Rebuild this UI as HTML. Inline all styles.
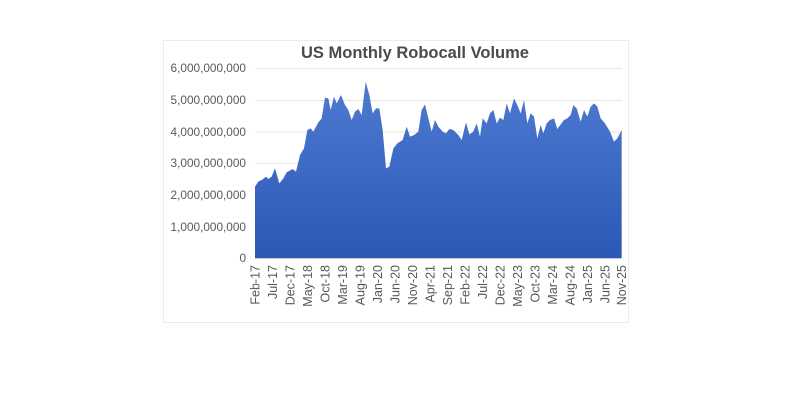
<!DOCTYPE html>
<html><head><meta charset="utf-8"><style>
html,body{margin:0;padding:0;background:#fff;}
svg{display:block;font-family:"Liberation Sans",sans-serif;}
</style></head><body>
<svg width="800" height="400" viewBox="0 0 800 400">
<defs><linearGradient id="g" x1="0" y1="0" x2="0" y2="1">
<stop offset="0" stop-color="#4d7ad2"/><stop offset="1" stop-color="#2c58b6"/></linearGradient></defs>
<rect x="163.5" y="40.5" width="465" height="282" fill="#fff" stroke="#ececec"/>
<text x="415" y="58" text-anchor="middle" font-size="16.5" font-weight="bold" fill="#4a4a4a">US Monthly Robocall Volume</text>
<g stroke="#e6e6e6" stroke-width="1">
<line x1="255" x2="622" y1="68.5" y2="68.5"/><line x1="255" x2="622" y1="100.5" y2="100.5"/>
<line x1="255" x2="622" y1="132" y2="132"/><line x1="255" x2="622" y1="163.5" y2="163.5"/>
<line x1="255" x2="622" y1="195.3" y2="195.3"/><line x1="255" x2="622" y1="227" y2="227"/>
</g>
<g font-size="11.8" fill="#595959" text-anchor="end">
<text x="246" y="72">6,000,000,000</text><text x="246" y="104">5,000,000,000</text>
<text x="246" y="136">4,000,000,000</text><text x="246" y="167">3,000,000,000</text>
<text x="246" y="199">2,000,000,000</text><text x="246" y="231">1,000,000,000</text>
<text x="246" y="262">0</text>
</g>
<g transform="translate(160,35) scale(0.3333333)">
<polygon fill="url(#g)" points="285,670 285,455 295,440 310,432 318,425 325,432 335,425 345,400 358,445 370,430 380,412 398,402 408,410 420,360 432,340 442,285 452,280 460,290 475,262 485,250 495,188 505,190 512,225 522,185 530,205 543,180 555,210 565,225 575,255 585,230 595,222 605,240 617,140 628,180 638,235 648,220 658,220 668,285 678,400 688,395 700,340 712,325 728,315 740,275 750,305 762,300 775,290 785,225 795,208 805,250 815,290 825,255 835,275 848,290 858,295 868,282 880,285 895,300 905,315 918,262 928,298 940,290 950,265 960,305 968,250 980,265 990,235 1000,225 1010,265 1020,248 1030,255 1040,205 1050,235 1062,190 1072,210 1082,235 1092,195 1102,265 1112,235 1122,245 1132,310 1142,270 1150,295 1160,265 1170,255 1182,250 1192,282 1202,268 1212,255 1222,250 1232,240 1240,210 1250,220 1262,260 1272,225 1282,245 1292,215 1302,205 1312,215 1322,250 1335,265 1350,290 1362,320 1372,310 1385,285 1385,670"/>
</g>
<line x1="255" x2="622" y1="258.5" y2="258.5" stroke="#d0d0d0"/>
<g font-size="12.5" fill="#595959" text-anchor="end">
<text transform="translate(259.5,265) rotate(-90)">Feb-17</text>
<text transform="translate(277,265) rotate(-90)">Jul-17</text>
<text transform="translate(294.5,265) rotate(-90)">Dec-17</text>
<text transform="translate(312,265) rotate(-90)">May-18</text>
<text transform="translate(329.5,265) rotate(-90)">Oct-18</text>
<text transform="translate(347,265) rotate(-90)">Mar-19</text>
<text transform="translate(364.5,265) rotate(-90)">Aug-19</text>
<text transform="translate(382,265) rotate(-90)">Jan-20</text>
<text transform="translate(399.5,265) rotate(-90)">Jun-20</text>
<text transform="translate(417,265) rotate(-90)">Nov-20</text>
<text transform="translate(434.5,265) rotate(-90)">Apr-21</text>
<text transform="translate(452,265) rotate(-90)">Sep-21</text>
<text transform="translate(469.5,265) rotate(-90)">Feb-22</text>
<text transform="translate(487,265) rotate(-90)">Jul-22</text>
<text transform="translate(504.5,265) rotate(-90)">Dec-22</text>
<text transform="translate(522,265) rotate(-90)">May-23</text>
<text transform="translate(539.5,265) rotate(-90)">Oct-23</text>
<text transform="translate(557,265) rotate(-90)">Mar-24</text>
<text transform="translate(574.5,265) rotate(-90)">Aug-24</text>
<text transform="translate(592,265) rotate(-90)">Jan-25</text>
<text transform="translate(609.5,265) rotate(-90)">Jun-25</text>
<text transform="translate(626,265) rotate(-90)">Nov-25</text>
</g>
</svg>
</body></html>
